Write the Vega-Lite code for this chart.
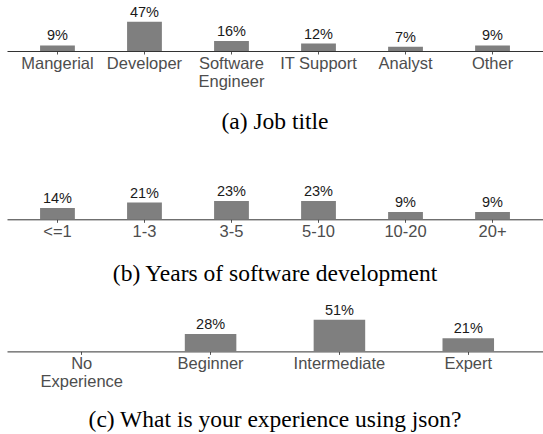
{
  "$schema": "https://vega.github.io/schema/vega-lite/v6.json",
  "padding": {"left": 7, "top": 0, "right": 0, "bottom": 0},
  "background": "white",
  "bounds": "flush",
  "spacing": 0,
  "config": {
    "view": {"stroke": null},
    "axis": {
      "domainColor": "#333333",
      "domainWidth": 1,
      "tickColor": "#555555",
      "tickSize": 3,
      "labelPadding": 1,
      "labelFont": "Liberation Sans",
      "labelFontSize": 16.5,
      "labelColor": "#4d4d4d",
      "labelAngle": 0,
      "labelBaseline": "top",
      "labelLineHeight": 18.5,
      "labelOverlap": false,
      "grid": false
    },
    "title": {"font": "Liberation Serif", "fontSize": 23.5, "fontWeight": "normal", "color": "#000000", "orient": "bottom", "anchor": "middle"}
  },
  "datasets": {
    "job": [
      {"cat": "Mangerial", "pct": 0.09},
      {"cat": "Developer", "pct": 0.47},
      {"cat": "Software Engineer", "pct": 0.16},
      {"cat": "IT Support", "pct": 0.12},
      {"cat": "Analyst", "pct": 0.07},
      {"cat": "Other", "pct": 0.09}
    ],
    "years": [
      {"cat": "<=1", "pct": 0.14},
      {"cat": "1-3", "pct": 0.21},
      {"cat": "3-5", "pct": 0.23},
      {"cat": "5-10", "pct": 0.23},
      {"cat": "10-20", "pct": 0.09},
      {"cat": "20+", "pct": 0.09}
    ],
    "json": [
      {"cat": "No Experience", "pct": 0},
      {"cat": "Beginner", "pct": 0.28},
      {"cat": "Intermediate", "pct": 0.51},
      {"cat": "Expert", "pct": 0.21}
    ]
  },
  "vconcat": [
    {
      "width": 536,
      "height": 51,
      "data": {"name": "job"},
      "title": {"text": "(a) Job title", "offset": 20},
      "encoding": {
        "x": {"field": "cat", "type": "nominal", "sort": null, "title": null,
              "scale": {"paddingInner": 0.6, "paddingOuter": 0.38, "align": 0.5},
              "axis": {"labelExpr": "datum.value == 'Software Engineer' ? ['Software', 'Engineer'] : datum.label"}},
        "y": {"field": "pct", "type": "quantitative", "scale": {"domain": [0, 0.8186], "nice": false}, "axis": null}
      },
      "layer": [
        {"mark": {"type": "bar", "color": "#7f7f7f"}},
        {"transform": [{"filter": "datum.pct > 0"}],
         "mark": {"type": "text", "baseline": "alphabetic", "dy": -5, "font": "Liberation Sans", "fontSize": 14.5, "color": "#1a1a1a"},
         "encoding": {"text": {"field": "pct", "type": "quantitative", "format": ".0%"}}}
      ]
    },
    {
      "width": 536,
      "height": 168.3,
      "data": {"name": "years"},
      "title": {"text": "(b) Years of software development", "offset": 22},
      "encoding": {
        "x": {"field": "cat", "type": "nominal", "sort": null, "title": null,
              "scale": {"paddingInner": 0.6, "paddingOuter": 0.38, "align": 0.5}},
        "y": {"field": "pct", "type": "quantitative", "scale": {"domain": [0, 2.104], "nice": false}, "axis": null}
      },
      "layer": [
        {"mark": {"type": "bar", "color": "#7f7f7f"}},
        {"transform": [{"filter": "datum.pct > 0"}],
         "mark": {"type": "text", "baseline": "alphabetic", "dy": -5, "font": "Liberation Sans", "fontSize": 14.5, "color": "#1a1a1a"},
         "encoding": {"text": {"field": "pct", "type": "quantitative", "format": ".0%"}}}
      ]
    },
    {
      "width": 536,
      "height": 131.4,
      "data": {"name": "json"},
      "title": {"text": "(c) What is your experience using json?", "offset": 18},
      "encoding": {
        "x": {"field": "cat", "type": "nominal", "sort": null, "title": null,
              "scale": {"paddingInner": 0.6, "paddingOuter": 0.38, "align": 0.5},
              "axis": {"labelExpr": "datum.value == 'No Experience' ? ['No', 'Experience'] : datum.label"}},
        "y": {"field": "pct", "type": "quantitative", "scale": {"domain": [0, 2.116], "nice": false}, "axis": null}
      },
      "layer": [
        {"mark": {"type": "bar", "color": "#7f7f7f"}},
        {"transform": [{"filter": "datum.pct > 0"}],
         "mark": {"type": "text", "baseline": "alphabetic", "dy": -5, "font": "Liberation Sans", "fontSize": 14.5, "color": "#1a1a1a"},
         "encoding": {"text": {"field": "pct", "type": "quantitative", "format": ".0%"}}}
      ]
    }
  ]
}
